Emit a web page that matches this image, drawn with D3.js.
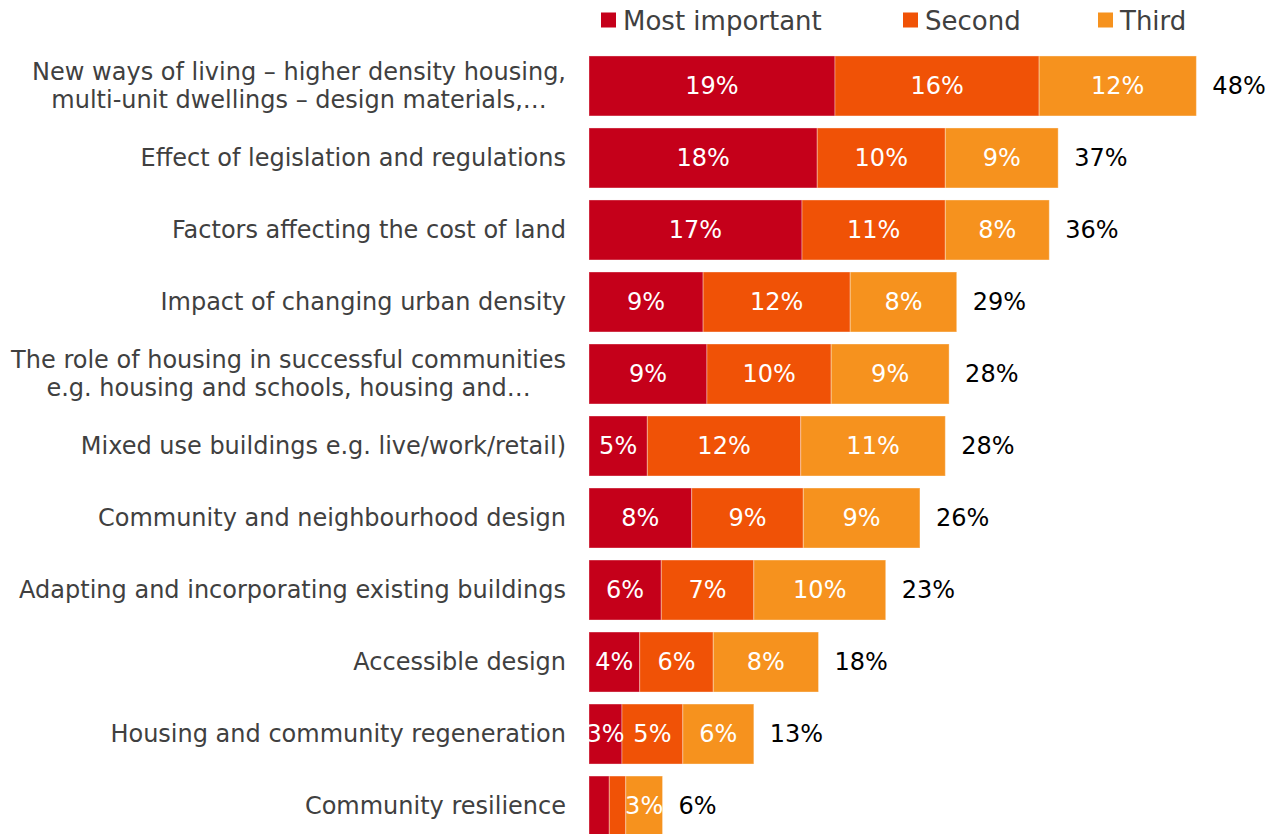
<!DOCTYPE html>
<html><head><meta charset="utf-8">
<script src="https://cdn.jsdelivr.net/npm/d3@7"></script>
<style>body{margin:0;background:#fff}svg{display:block}</style>
</head><body>
<svg id="chart" width="1270" height="834"></svg>
<script>
const categories = [
  ["New ways of living – higher density housing,", "multi-unit dwellings – design materials,…"],
  ["Effect of legislation and regulations"],
  ["Factors affecting the cost of land"],
  ["Impact of changing urban density"],
  ["The role of housing in successful communities", "e.g. housing and schools, housing and…"],
  ["Mixed use buildings e.g. live/work/retail)"],
  ["Community and neighbourhood design"],
  ["Adapting and incorporating existing buildings"],
  ["Accessible design"],
  ["Housing and community regeneration"],
  ["Community resilience"]
];
const seriesNames = ["Most important", "Second", "Third"];
const mostImportant = [19.4, 18.0, 16.8, 9.0, 9.3, 4.6, 8.1, 5.7, 4.0, 2.6, 1.6];
const second        = [16.1, 10.1, 11.3, 11.6, 9.8, 12.1, 8.8, 7.3, 5.8, 4.8, 1.3];
const third         = [12.4, 8.9, 8.2, 8.4, 9.3, 11.4, 9.2, 10.4, 8.3, 5.6, 2.9];
const colors = ["#C5001A", "#F05206", "#F6921E"];

const svg = d3.select("#chart");
const series = [mostImportant, second, third];
const rows = categories.map((c, i) => ({
  label: c,
  vals: series.map(s => s[i]),
  total: d3.sum(series, s => s[i])
}));

const x = d3.scaleLinear().domain([0, 50]).range([589, 1223]);
const y = d3.scaleBand().domain(d3.range(categories.length)).range([50, 842]).paddingInner(0.167).paddingOuter(0.083);

svg.append("defs").append("clipPath").attr("id", "plot")
  .append("rect").attr("x", 589).attr("y", 0).attr("width", 700).attr("height", 834);

const fontFam = "'DejaVu Sans', Verdana, sans-serif";

// bars
const plot = svg.append("g").attr("clip-path", "url(#plot)");
rows.forEach((r, i) => {
  let acc = 0;
  r.vals.forEach((v, j) => {
    const x0 = x(acc), x1 = x(acc + v);
    plot.append("rect")
      .attr("x", x0).attr("y", y(i)).attr("width", x1 - x0).attr("height", y.bandwidth())
      .attr("fill", colors[j]).attr("stroke", "#fff").attr("stroke-opacity", 0.35).attr("stroke-width", 1);
    acc += v;
  });
  acc = 0;
  r.vals.forEach((v, j) => {
    const x0 = x(acc), x1 = x(acc + v);
    if (v >= 2) {
      plot.append("text")
        .attr("x", (x0 + x1) / 2).attr("y", y(i) + y.bandwidth() / 2)
        .attr("text-anchor", "middle").attr("dominant-baseline", "central")
        .attr("font-family", fontFam).attr("font-size", 24).attr("fill", "#fff")
        .text(Math.round(v) + "%");
    }
    acc += v;
  });
  svg.append("text")
    .attr("x", x(r.total) + 16).attr("y", y(i) + y.bandwidth() / 2)
    .attr("dominant-baseline", "central")
    .attr("font-family", fontFam).attr("font-size", 24).attr("fill", "#000")
    .text(Math.round(r.total) + "%");
});

// category labels
const labelRight = 566;
rows.forEach((r, i) => {
  const g = svg.append("g");
  const cy = y(i) + y.bandwidth() / 2;
  const lh = 28;
  const texts = r.label.map((line, k) => g.append("text")
    .attr("y", cy + (k - (r.label.length - 1) / 2) * lh)
    .attr("dominant-baseline", "central")
    .attr("text-anchor", "middle")
    .attr("font-family", fontFam).attr("font-size", 24).attr("fill", "#404040")
    .text(line));
  const w = d3.max(texts, t => t.node().getComputedTextLength());
  texts.forEach(t => t.attr("x", labelRight - w / 2));
});

// legend
const legendX = [601, 903, 1098];
seriesNames.forEach((n, j) => {
  svg.append("rect").attr("x", legendX[j]).attr("y", 12.5).attr("width", 15).attr("height", 15).attr("fill", colors[j]);
  svg.append("text").attr("x", legendX[j] + 22).attr("y", 20.5)
    .attr("dominant-baseline", "central")
    .attr("font-family", fontFam).attr("font-size", 26).attr("fill", "#404040")
    .text(n);
});
</script>
</body></html>
